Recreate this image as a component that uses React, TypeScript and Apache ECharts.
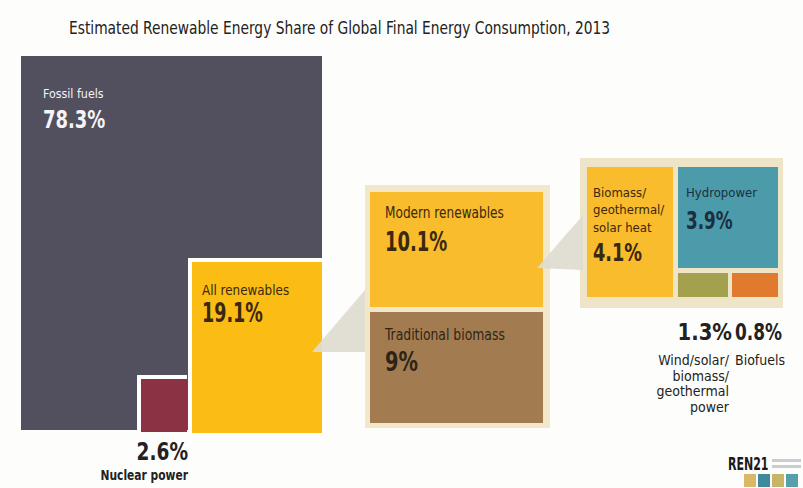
import React, { useEffect, useRef } from "react";
import * as echarts from "echarts";

const FONT = "'DejaVu Sans Condensed', 'Liberation Sans Narrow', 'Roboto Condensed', sans-serif";

// ---- data ----
const titleText = "Estimated Renewable Energy Share of Global Final Energy Consumption, 2013";
const categories = [
  "Fossil fuels",
  "Nuclear power",
  "All renewables",
  "Modern renewables",
  "Traditional biomass",
  "Biomass/\ngeothermal/\nsolar heat",
  "Hydropower",
  "Wind/solar/\nbiomass/\ngeothermal\npower",
  "Biofuels",
];
const shares = [78.3, 2.6, 19.1, 10.1, 9, 4.1, 3.9, 1.3, 0.8];

// ---- layout (infographic units = px of 803x488 canvas) ----
type Lbl = { x: number; y: number; size: number; align?: string; lh?: number; bold?: boolean; sx?: number };
type Box = { rect: number[]; fill: string; stroke?: string; ink: string; name: Lbl; value: Lbl };
const boxLayout: Box[] = [
  { rect: [21, 56, 322, 430], fill: "#524f5f", ink: "#f4f4f6", name: { x: 43, y: 93, size: 13, sx: 0.95 }, value: { x: 43, y: 119, size: 25, sx: 0.8 } },
  { rect: [141, 379, 187, 432], fill: "#8b3344", stroke: "#ffffff", ink: "#222222", name: { x: 188, y: 475, size: 14, align: "right", bold: true, sx: 0.85 }, value: { x: 188, y: 451, size: 24, align: "right", sx: 0.86 } },
  { rect: [192, 262, 322, 433], fill: "#fbbc14", stroke: "#ffffff", ink: "#3a2810", name: { x: 202, y: 290, size: 14, sx: 0.95 }, value: { x: 202, y: 313, size: 26, sx: 0.75 } },
  { rect: [370, 192, 543, 307], fill: "#f8bc2c", ink: "#3a2810", name: { x: 385, y: 213, size: 15, sx: 0.9 }, value: { x: 385, y: 242, size: 27, sx: 0.74 } },
  { rect: [370, 312, 543, 423], fill: "#a27c50", ink: "#2e2416", name: { x: 385, y: 335, size: 15, sx: 0.92 }, value: { x: 385, y: 362, size: 27, sx: 0.8 } },
  { rect: [587, 167, 673, 297], fill: "#f8bc2c", ink: "#3a2810", name: { x: 593, y: 192, size: 13, lh: 17.5, sx: 1.0 }, value: { x: 593, y: 253, size: 24, sx: 0.82 } },
  { rect: [678, 167, 778, 268], fill: "#4b9bab", ink: "#1b2f3e", name: { x: 686, y: 192, size: 13, sx: 1.0 }, value: { x: 686, y: 221, size: 24, sx: 0.78 } },
  { rect: [678, 273, 728, 297], fill: "#a3a04e", ink: "#222222", name: { x: 729, y: 360, size: 14, align: "right", lh: 15.7, sx: 1.0 }, value: { x: 732, y: 332, size: 23, align: "right", sx: 0.95 } },
  { rect: [732, 273, 778, 297], fill: "#e07a2e", ink: "#222222", name: { x: 735, y: 360, size: 14, sx: 1.0 }, value: { x: 735, y: 332, size: 23, sx: 0.82 } },
];
const frameLayout = [
  { rect: [365, 185, 550, 428], fill: "#f2e7c9" },
  { rect: [580, 158, 783, 308], fill: "#eee5c9" },
];
const connectorLayout = [
  [[312, 352], [365, 290], [365, 352]],
  [[537, 268], [583, 215], [583, 270]],
];

function fmt(v: number) {
  return `${v}%`;
}

export default function App() {
  const ref = useRef<HTMLDivElement>(null);
  useEffect(() => {
    if (!ref.current) return;
    const chart = echarts.init(ref.current, undefined, { renderer: "svg" });

    const textEl = (api: any, l: Lbl, text: string, color: string, bold: boolean) => {
      const lh = l.lh ?? Math.round(l.size * 1.2);
      const p = api.coord([l.x, l.y]);
      return {
        type: "text",
        x: p[0],
        y: p[1] - lh / 2,
        scaleX: l.sx ?? 1,
        style: {
          text,
          x: 0,
          y: 0,
          fill: color,
          fontSize: l.size,
          fontFamily: FONT,
          fontWeight: bold ? "bold" : "normal",
          align: l.align ?? "left",
          verticalAlign: "top",
          lineHeight: lh,
        },
      };
    };

    const option: any = {
      animation: false,
      backgroundColor: "#fdfdfb",
      grid: { left: 0, right: 0, top: 0, bottom: 0 },
      xAxis: { type: "value", min: 0, max: 803, show: false },
      yAxis: { type: "value", min: 0, max: 488, inverse: true, show: false },
      series: [
        {
          type: "custom",
          name: "frames",
          clip: false,
          z: 1,
          silent: true,
          data: frameLayout.map((f) => f.rect),
          renderItem: (params: any, api: any) => {
            const f = frameLayout[params.dataIndex];
            const p0 = api.coord([api.value(0), api.value(1)]);
            const p1 = api.coord([api.value(2), api.value(3)]);
            return { type: "rect", shape: { x: p0[0], y: p0[1], width: p1[0] - p0[0], height: p1[1] - p0[1] }, style: { fill: f.fill } };
          },
        },
        {
          type: "custom",
          name: "shares",
          clip: false,
          z: 2,
          data: categories.map((c, i) => ({ name: c, value: [...boxLayout[i].rect, shares[i]] })),
          renderItem: (params: any, api: any) => {
            const i = params.dataIndex;
            const b = boxLayout[i];
            const p0 = api.coord([api.value(0), api.value(1)]);
            const p1 = api.coord([api.value(2), api.value(3)]);
            const children: any[] = [];
            if (b.stroke) {
              children.push({
                type: "rect",
                shape: { x: p0[0] - 4, y: p0[1] - 4, width: p1[0] - p0[0] + 4, height: p1[1] - p0[1] + 4 },
                style: { fill: b.stroke },
              });
            }
            children.push({
              type: "rect",
              shape: { x: p0[0], y: p0[1], width: p1[0] - p0[0], height: p1[1] - p0[1] },
              style: { fill: b.fill },
            });
            children.push(textEl(api, b.name, categories[i], b.ink, !!b.name.bold));
            children.push(textEl(api, b.value, fmt(api.value(4)), b.ink, true));
            return { type: "group", children };
          },
        },
        {
          type: "custom",
          name: "connectors",
          clip: false,
          z: 3,
          silent: true,
          data: connectorLayout.map((_, i) => i),
          renderItem: (params: any, api: any) => {
            const pts = connectorLayout[params.dataIndex].map((p) => api.coord(p));
            return { type: "polygon", shape: { points: pts }, style: { fill: "#dedbd0", opacity: 0.92 } };
          },
        },
      ],
      graphic: [
        {
          type: "text",
          x: 69,
          y: 28,
          scaleX: 0.853,
          style: { text: titleText, fill: "#222222", fontSize: 18, fontFamily: FONT, verticalAlign: "middle", align: "left" },
        },
        {
          type: "text",
          x: 728,
          y: 464,
          scaleX: 0.72,
          style: { text: "REN21", fill: "#1a1a1a", fontSize: 17, fontWeight: "bold", fontFamily: FONT, verticalAlign: "middle" },
        },
        { type: "rect", shape: { x: 772, y: 459, width: 29, height: 3 }, style: { fill: "#c9cdd2" } },
        { type: "rect", shape: { x: 772, y: 465, width: 29, height: 3 }, style: { fill: "#c9cdd2" } },
        { type: "rect", shape: { x: 744, y: 474, width: 12, height: 13 }, style: { fill: "#d9b968" } },
        { type: "rect", shape: { x: 758, y: 474, width: 12, height: 13 }, style: { fill: "#3f8a9a" } },
        { type: "rect", shape: { x: 772, y: 474, width: 12, height: 13 }, style: { fill: "#c8b668" } },
        { type: "rect", shape: { x: 786, y: 474, width: 12, height: 13 }, style: { fill: "#55a0aa" } },
      ],
    };
    chart.setOption(option);
    return () => chart.dispose();
  }, []);
  return <div ref={ref} style={{ position: "fixed", left: 0, top: 0, width: 803, height: 488 }} />;
}
